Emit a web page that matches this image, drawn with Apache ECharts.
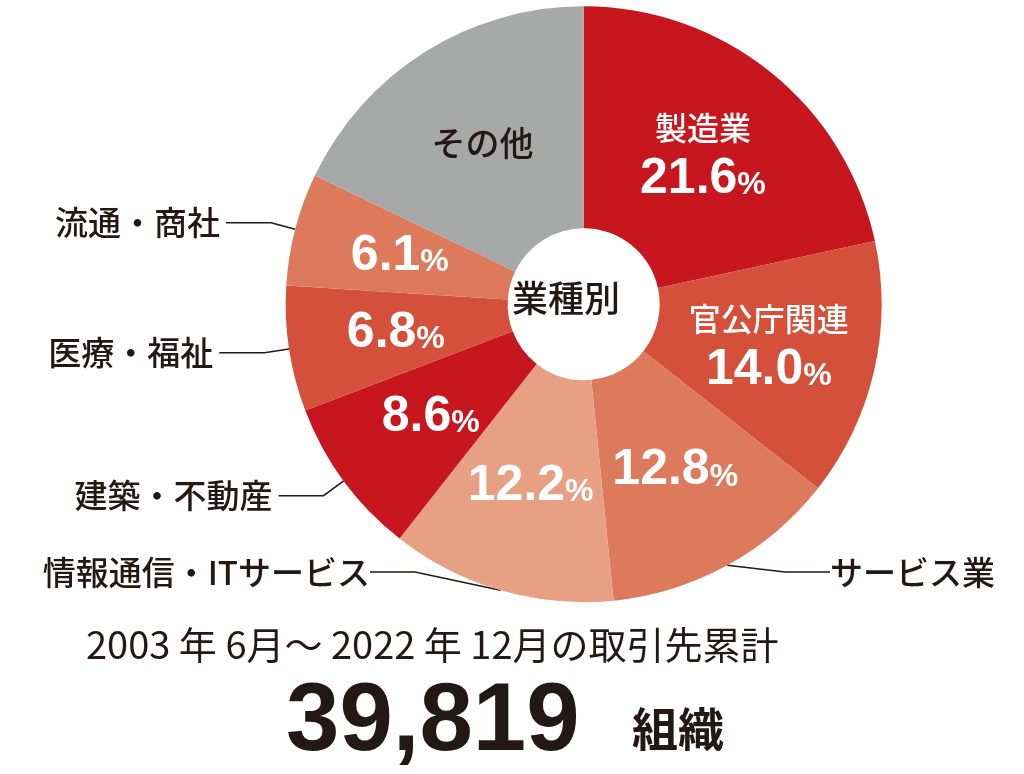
<!DOCTYPE html>
<html><head><meta charset="utf-8">
<script src="https://cdn.jsdelivr.net/npm/echarts@6/dist/echarts.min.js"></script>
<style>html,body{margin:0;background:#fff}#c{width:1024px;height:774px}</style>
</head><body><div id="c"></div>
<script>
const names = ['製造業', '官公庁関連', 'サービス業', '情報通信・ITサービス', '建築・不動産', '医療・福祉', '流通・商社', 'その他'];
const values = [21.6, 14.0, 12.8, 12.2, 8.6, 6.8, 6.1, 17.9];
const colors = ['#C8161E', '#D4503A', '#DE7A5C', '#E8A084', '#C8161E', '#D4503A', '#DE7A5C', '#A7A8A8'];
// inside: name+pct / pct only / name only
const insideMode = ['both', 'both', 'pct', 'pct', 'pct', 'pct', 'pct', 'name'];
const outside = [false, false, true, true, true, true, true, false];

const font = '"Noto Sans CJK JP", sans-serif';
const center = ['57%', '39.3%'];
const radius = [76, 298];

const chart = echarts.init(document.getElementById('c'));

const innerData = names.map((n, i) => ({
  name: n, value: values[i],
  itemStyle: { color: colors[i] },
  label: {
    formatter: insideMode[i] === 'both' ? '{n|' + n + '}\n{p|' + values[i].toFixed(1) + '}{s|%}'
      : insideMode[i] === 'pct' ? '{p|' + values[i].toFixed(1) + '}{s|%}' : '{g|' + n + '}'
  }
}));

const outerData = names.map((n, i) => ({
  name: n, value: values[i],
  label: { show: outside[i] },
  labelLine: { show: outside[i] }
}));

chart.setOption({
  series: [
    {
      type: 'pie', center, radius, startAngle: 90, silent: true,
      label: {
        position: 'inside', fontFamily: font,
        rich: {
          n: { color: '#fff', fontSize: 32, fontWeight: 500, fontFamily: font, lineHeight: 46 },
          p: { color: '#fff', fontSize: 50, fontWeight: 'bold', fontFamily: 'Liberation Sans', lineHeight: 56 },
          s: { color: '#fff', fontSize: 32, fontWeight: 'bold', fontFamily: 'Liberation Sans', padding: [12, 0, 0, 0] },
          g: { color: '#231815', fontSize: 34, fontWeight: 500, fontFamily: font }
        }
      },
      data: innerData
    },
    {
      type: 'pie', center, radius, startAngle: 90, silent: true,
      itemStyle: { color: 'transparent' },
      label: { position: 'outside', color: '#231815', fontSize: 33, fontFamily: font, fontWeight: 500, distanceToLabelLine: 6 },
      labelLine: { length: 25, length2: 45, lineStyle: { color: '#231815', width: 1.5 } },
      labelLayout: function (p) {
        if (p.dataIndex === 3) return { x: 370, y: 572, align: 'right', verticalAlign: 'middle' };
        if (p.dataIndex === 2) return { x: 830, y: 572, align: 'left', verticalAlign: 'middle' };
      },
      data: outerData
    }
  ],
  graphic: [
    { type: 'text', left: 512, top: 280, style: { text: '業種別', fontSize: 36, fontWeight: 500, fontFamily: font, fill: '#231815' } },
    { type: 'text', left: 86, top: 626, style: { text: '2003 年 6月～ 2022 年 12月の取引先累計', fontSize: 38, fontFamily: font, fill: '#231815' } },
    { type: 'text', left: 286, top: 676, style: { text: '39,819', fontSize: 96, fontWeight: 'bold', fontFamily: 'Liberation Sans', fill: '#231815' } },
    { type: 'text', left: 632, top: 706, style: { text: '組織', fontSize: 46, fontWeight: 'bold', fontFamily: font, fill: '#231815' } }
  ]
});
</script></body></html>
